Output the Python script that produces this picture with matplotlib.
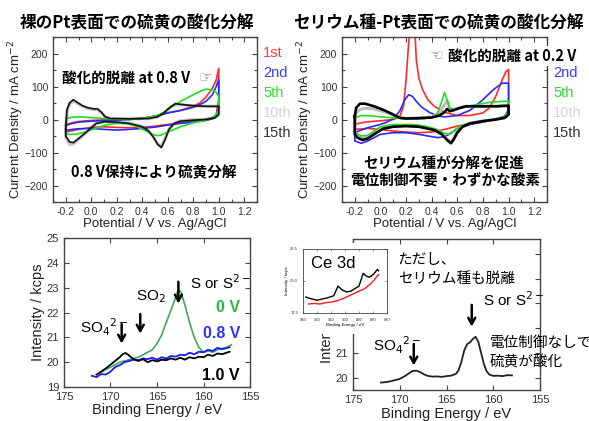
import matplotlib
matplotlib.use('Agg')
import matplotlib.pyplot as plt
from matplotlib.ticker import MultipleLocator, FormatStrFormatter, FuncFormatter
from matplotlib.patches import Rectangle

plt.rcParams['font.family'] = ['Liberation Sans', 'Noto Sans CJK JP', 'DejaVu Sans']
plt.rcParams['axes.unicode_minus'] = True
JP = ['Noto Sans CJK JP', 'DejaVu Sans']

# ---- CV data, bare Pt (left) : potential / V, current / mA cm-2 ----
pt_red_v = [-0.2, -0.15, -0.1, 0.0, 0.1, 0.2, 0.3, 0.4, 0.5, 0.6, 0.7, 0.8, 0.85, 0.9, 0.95, 0.98, 1.0,
            1.0, 0.98, 0.95, 0.9, 0.8, 0.7, 0.6, 0.5, 0.4, 0.3, 0.2, 0.1, 0.0, -0.1, -0.2, -0.2]
pt_red_i = [-15, -10, -6, -3, -1, 0, 2, 4, 10, 20, 28, 40, 50, 68, 95, 120, 155,
            60, 15, 5, 0, -6, -10, -15, -20, -24, -25, -24, -22, -24, -30, -38, -15]
pt_blue_v = [-0.2, -0.15, -0.1, 0.0, 0.1, 0.2, 0.3, 0.4, 0.5, 0.6, 0.7, 0.8, 0.85, 0.9, 0.95, 0.98, 1.0,
             1.0, 0.98, 0.95, 0.9, 0.8, 0.7, 0.6, 0.5, 0.4, 0.3, 0.2, 0.1, 0.0, -0.1, -0.15, -0.2, -0.2]
pt_blue_i = [-18, -12, -8, -5, -3, -2, 0, 3, 10, 20, 27, 37, 45, 55, 75, 100, 122,
             40, 12, 2, -3, -8, -12, -17, -23, -27, -30, -32, -30, -27, -28, -30, -33, -18]
pt_green_v = [-0.2, -0.15, -0.1, 0.0, 0.1, 0.2, 0.3, 0.4, 0.5, 0.55, 0.6, 0.7, 0.8, 0.85, 0.9, 0.95, 0.98, 1.0,
              1.0, 0.98, 0.95, 0.9, 0.8, 0.7, 0.6, 0.55, 0.52, 0.48, 0.42, 0.35, 0.28, 0.2, 0.12, 0.05,
              -0.05, -0.12, -0.2, -0.2]
pt_green_i = [3, 7, 8, 6, 3, 1, 0, 3, 10, 18, 30, 55, 75, 85, 92, 90, 82, 70,
              30, 15, 5, -2, -10, -22, -38, -47, -49, -45, -33, -20, -13, -12, -16, -25,
              -38, -45, -45, 3]
pt_gray_v = [-0.2, -0.19, -0.17, -0.14, -0.11, -0.07, -0.03, 0.02, 0.05, 0.08, 0.11, 0.15, 0.3, 0.45, 0.52,
             0.57, 0.62, 0.66, 0.72, 0.8, 0.9, 1.0,
             1.0, 0.97, 0.9, 0.8, 0.7, 0.65, 0.61, 0.58, 0.55, 0.52, 0.49, 0.45, 0.4, 0.3, 0.2, 0.1,
             0.04, 0.0, -0.05, -0.1, -0.14, -0.17, -0.2, -0.2]
pt_gray_i = [-35, 28, 47, 56, 50, 40, 34, 30, 30, 20, 7, 3, 2, 3, 8,
             19, 36, 46, 44, 41, 40, 40,
             16, 6, 1, -1, -4, -11, -28, -58, -82, -73, -53, -34, -21, -11, -7, -6,
             -11, -24, -43, -60, -74, -75, -55, -35]
pt_black_v = [-0.2, -0.19, -0.17, -0.14, -0.11, -0.07, -0.03, 0.02, 0.05, 0.08, 0.11, 0.15, 0.3, 0.45, 0.52,
              0.57, 0.62, 0.66, 0.72, 0.8, 0.9, 1.0,
              1.0, 0.97, 0.9, 0.8, 0.7, 0.65, 0.61, 0.58, 0.55, 0.52, 0.49, 0.45, 0.4, 0.3, 0.2, 0.1,
              0.04, 0.0, -0.05, -0.1, -0.14, -0.17, -0.2, -0.2]
pt_black_i = [-30, 30, 50, 60, 52, 42, 36, 32, 32, 22, 8, 3, 2, 3, 8,
              20, 38, 48, 45, 42, 40, 40,
              15, 5, 0, -2, -5, -12, -30, -60, -85, -75, -55, -35, -22, -12, -8, -7,
              -12, -25, -42, -58, -70, -68, -50, -30]

# ---- CV data, Ce-modified Pt (right) ----
ce_red_v = [-0.2, -0.15, -0.1, 0.0, 0.1, 0.15, 0.18, 0.2, 0.22, 0.24, 0.25, 0.27, 0.28, 0.3, 0.33, 0.37,
            0.42, 0.5, 0.6, 0.7, 0.8, 0.85, 0.9, 0.95, 0.98, 1.0,
            1.0, 0.97, 0.9, 0.8, 0.7, 0.6, 0.5, 0.4, 0.3, 0.2, 0.1, 0.0, -0.1, -0.2, -0.2]
ce_red_i = [-15, -10, -7, -4, 0, 8, 40, 120, 230, 330, 360, 260, 180, 125, 90, 60,
            40, 22, 12, 12, 20, 35, 70, 120, 145, 152,
            25, 10, 2, -5, -12, -20, -30, -38, -40, -38, -35, -30, -27, -30, -15]
ce_blue_v = [-0.2, -0.15, -0.1, 0.0, 0.05, 0.1, 0.15, 0.19, 0.22, 0.25, 0.28, 0.32, 0.38, 0.45, 0.5, 0.6,
             0.7, 0.8, 0.88, 0.95, 1.0,
             1.0, 0.97, 0.9, 0.8, 0.7, 0.6, 0.55, 0.5, 0.45, 0.4, 0.3, 0.2, 0.1, 0.0, -0.05, -0.1,
             -0.15, -0.2, -0.2]
ce_blue_i = [-40, -32, -25, -15, -8, 2, 25, 60, 75, 70, 55, 38, 22, 10, 8, 12,
             28, 60, 90, 110, 110,
             30, 10, 0, -8, -15, -28, -42, -52, -55, -52, -45, -40, -40, -45, -55, -65,
             -72, -65, -40]
ce_green_v = [-0.2, -0.15, -0.1, 0.0, 0.1, 0.2, 0.3, 0.4, 0.44, 0.47, 0.5, 0.52, 0.54, 0.57, 0.65, 0.75,
              0.85, 0.95, 1.0,
              1.0, 0.97, 0.9, 0.8, 0.7, 0.62, 0.57, 0.53, 0.49, 0.44, 0.35, 0.25, 0.1, 0.0, -0.05,
              -0.1, -0.15, -0.2, -0.2]
ce_green_i = [5, 12, 12, 8, 5, 3, 2, 5, 15, 45, 82, 60, 35, 30, 38, 45,
              52, 55, 55,
              25, 8, 0, -5, -10, -20, -35, -45, -40, -30, -20, -15, -15, -22, -35,
              -48, -50, -40, 5]
ce_gray_v = [-0.2, -0.19, -0.16, -0.12, -0.05, 0.03, 0.1, 0.15, 0.2, 0.3, 0.4, 0.46, 0.5, 0.52, 0.54,
             0.57, 0.62, 0.67, 0.8, 0.9, 1.0,
             1.0, 0.97, 0.9, 0.8, 0.7, 0.64, 0.6, 0.57, 0.55, 0.52, 0.48, 0.42, 0.3, 0.2, 0.1,
             0.02, -0.05, -0.1, -0.14, -0.18, -0.2, -0.2]
ce_gray_i = [5, 22, 30, 34, 32, 24, 13, 5, 3, 4, 7, 20, 45, 58, 35,
             30, 36, 40, 40, 40, 42,
             16, 6, 0, -4, -11, -20, -36, -58, -68, -60, -44, -30, -20, -18, -20,
             -26, -42, -52, -58, -52, -42, 5]
ce_black_v = [-0.2, -0.19, -0.16, -0.12, -0.05, 0.03, 0.1, 0.15, 0.2, 0.3, 0.4, 0.46, 0.5, 0.52, 0.54,
              0.57, 0.62, 0.67, 0.8, 0.9, 1.0,
              1.0, 0.97, 0.9, 0.8, 0.7, 0.64, 0.6, 0.57, 0.55, 0.52, 0.48, 0.42, 0.3, 0.2, 0.1,
              0.02, -0.05, -0.1, -0.14, -0.18, -0.2, -0.2]
ce_black_i = [10, 35, 48, 48, 40, 28, 15, 5, 3, 4, 6, 12, 22, 32, 25,
              28, 35, 40, 40, 40, 42,
              15, 5, 0, -5, -12, -22, -40, -62, -72, -62, -45, -32, -22, -20, -22,
              -28, -45, -58, -62, -55, -45, 10]

# ---- XPS S 2p, bare Pt (binding energy / eV, intensity / kcps) ----
xps_green_be = [171.0, 170.5, 170.0, 169.5, 169.0, 168.5, 168.0, 167.5, 167.0, 166.5, 166.0, 165.5,
                165.0, 164.5, 164.0, 163.5, 163.0, 162.7, 162.4, 162.0, 161.5, 161.0, 160.5, 160.0,
                159.5, 159.0, 158.5, 158.0, 157.5, 157.0]
xps_green_i = [19.6, 19.7, 19.8, 19.9, 20.0, 20.05, 20.1, 20.15, 20.2, 20.3, 20.4, 20.5,
               20.75, 21.1, 21.6, 22.1, 22.6, 22.95, 22.8, 22.3, 21.6, 21.0, 20.6, 20.4,
               20.45, 20.4, 20.5, 20.55, 20.6, 20.7]
xps_black_be = [171.5, 171.0, 170.5, 170.0, 169.5, 169.0, 168.7, 168.4, 168.1, 167.8, 167.4, 167.0,
                166.5, 166.0, 165.5, 165.0, 164.5, 164.0, 163.5, 163.0, 162.5, 162.0, 161.5, 161.0,
                160.5, 160.0, 159.5, 159.0, 158.5, 158.0, 157.2]
xps_black_i = [19.5, 19.62, 19.75, 19.9, 20.05, 20.2, 20.32, 20.37, 20.3, 20.2, 20.1, 20.05,
               20.12, 20.0, 20.08, 20.03, 20.1, 20.08, 20.15, 20.1, 20.18, 20.1, 20.2, 20.15,
               20.22, 20.2, 20.3, 20.25, 20.35, 20.32, 20.42]
xps_blue_be = [172.0, 171.5, 171.0, 170.5, 170.0, 169.5, 169.0, 168.5, 168.0, 167.5, 167.0, 166.5,
               166.0, 165.5, 165.0, 164.5, 164.0, 163.5, 163.0, 162.5, 162.0, 161.5, 161.0, 160.5,
               160.0, 159.5, 159.0, 158.5, 158.0, 157.2]
xps_blue_i = [19.45, 19.4, 19.52, 19.5, 19.62, 19.8, 19.88, 20.0, 20.05, 20.1, 20.08, 20.15,
              20.12, 20.18, 20.1, 20.2, 20.15, 20.25, 20.22, 20.3, 20.28, 20.38, 20.32, 20.42,
              20.4, 20.5, 20.45, 20.58, 20.52, 20.6]

# ---- XPS S 2p, Ce-modified Pt ----
xps_ce_be = [172.0, 171.5, 171.0, 170.5, 170.0, 169.5, 169.0, 168.6, 168.2, 167.8, 167.4, 167.0,
             166.5, 166.0, 165.5, 165.0, 164.5, 164.0, 163.7, 163.4, 163.1, 162.8, 162.5, 162.2,
             161.9, 161.6, 161.3, 161.0, 160.7, 160.4, 160.0, 159.5, 159.0, 158.5, 158.0]
xps_ce_i = [19.8, 19.82, 19.85, 19.9, 19.95, 20.05, 20.18, 20.27, 20.28, 20.22, 20.13, 20.07,
            20.04, 20.05, 20.03, 20.06, 20.08, 20.15, 20.3, 20.65, 21.1, 21.35, 21.42, 21.55,
            21.65, 21.45, 21.0, 20.55, 20.25, 20.12, 20.07, 20.08, 20.06, 20.1, 20.09]

# ---- inset Ce 3d ----
ce3d_black_be = [928, 924, 920, 916, 912, 908, 905, 902, 899, 896, 893, 890, 887, 885, 883, 881, 879, 877, 876]
ce3d_black_i = [18.75, 18.6, 18.5, 18.6, 18.7, 18.85, 19.6, 19.3, 19.15, 19.2, 19.4, 19.6, 20.6, 20.4,
                20.3, 20.4, 20.6, 20.9, 20.8]
ce3d_red_be = [926, 922, 918, 914, 910, 906, 902, 898, 894, 890, 886, 882, 879, 877, 876]
ce3d_red_i = [18.2, 18.25, 18.2, 18.3, 18.35, 18.45, 18.6, 18.8, 19.0, 19.2, 19.4, 19.75, 20.1, 20.4, 20.5]

cycle_labels = ['1st', '2nd', '5th', '10th', '15th']
cycle_colors = ['#ff3b3b', '#3b3bff', '#33dd33', '#d4d4d4', '#333333']

W, H = 589, 421
fig = plt.figure(figsize=(W / 100, H / 100), dpi=100)


def box(x0, y0, x1, y1):
    # pixel box (top-left origin) -> figure fraction rect
    return [x0 / W, 1 - y1 / H, (x1 - x0) / W, (y1 - y0) / H]


def fx(x):
    return x / W


def fy(y):
    return 1 - y / H


def style(ax, size=7.5):
    ax.tick_params(which='both', direction='in', top=True, right=True,
                   labelsize=size, labelcolor='#333333', color='#444444', width=0.8)
    ax.tick_params(which='major', length=3.5)
    ax.tick_params(which='minor', length=2)
    for s in ax.spines.values():
        s.set_linewidth(1.0)
        s.set_color('#444444')


def cv_axes(ax):
    style(ax)
    ax.set_xlim(-0.3, 1.3)
    ax.set_ylim(-250, 250)
    ax.xaxis.set_major_locator(MultipleLocator(0.2))
    ax.xaxis.set_minor_locator(MultipleLocator(0.1))
    ax.xaxis.set_major_formatter(FormatStrFormatter('%.1f'))
    ax.yaxis.set_major_locator(MultipleLocator(100))
    ax.yaxis.set_minor_locator(MultipleLocator(50))
    ax.set_xlabel('Potential / V vs. Ag/AgCl', fontsize=9.5, color='#222222')
    ax.set_ylabel('Current Density / mA cm$^{-2}$', fontsize=9.5, color='#222222')
    ax.yaxis.set_label_coords(-0.13, 0.5)
    ax.xaxis.set_label_coords(0.5, -0.095)


ax1 = fig.add_axes(box(53, 37, 257, 202))
ax2 = fig.add_axes(box(342, 37, 547, 202))
cv_axes(ax1)
cv_axes(ax2)

ax1.plot(pt_gray_v, pt_gray_i, color='#c8c8c8', lw=2.4)
ax1.plot(pt_red_v, pt_red_i, color='#ff2a2a', lw=1.2)
ax1.plot(pt_blue_v, pt_blue_i, color='#2a2aff', lw=1.2)
ax1.plot(pt_green_v, pt_green_i, color='#22dd22', lw=1.2)
ax1.plot(pt_black_v, pt_black_i, color='#111111', lw=1.2)

ax2.plot(ce_red_v, ce_red_i, color='#ff2a2a', lw=1.2)
ax2.plot(ce_blue_v, ce_blue_i, color='#2a2aff', lw=1.2)
ax2.plot(ce_gray_v, ce_gray_i, color='#bdbdbd', lw=2.2)
ax2.plot(ce_green_v, ce_green_i, color='#22dd22', lw=1.2)
ax2.plot(ce_black_v, ce_black_i, color='#000000', lw=1.9)

# titles
fig.text(fx(137), fy(23), '裸のPt表面での硫黄の酸化分解', ha='center', va='center',
         fontsize=12, fontweight='bold', family=JP)
fig.text(fx(438), fy(23), 'セリウム種-Pt表面での硫黄の酸化分解', ha='center', va='center',
         fontsize=12, fontweight='bold', family=JP)

# cycle labels (the right panel's "1st" sits under the white note box)
for k, (lab, col) in enumerate(zip(cycle_labels, cycle_colors)):
    fig.text(fx(263), fy(53 + 20 * k), lab, color=col, fontsize=10.5, va='center')
    if k > 0:
        fig.text(fx(553), fy(53 + 20 * k), lab, color=col, fontsize=10.5, va='center')

# left CV annotations
fig.text(fx(62), fy(78), '酸化的脱離 at 0.8 V', fontsize=10.5, fontweight='bold', va='center',
         family=JP)
fig.text(fx(199), fy(78), '☞', fontsize=11, color='#8a8a8a', va='center', family='DejaVu Sans')
fig.text(fx(154), fy(172), '0.8 V保持により硫黄分解', fontsize=10.5, fontweight='bold',
         ha='center', va='center', family=JP)

# right CV annotations
fig.add_artist(Rectangle((fx(427), fy(66)), (589 - 427) / W, 20 / H, transform=fig.transFigure,
                         facecolor='white', edgecolor='none', zorder=4))
fig.text(fx(430), fy(56), '☜', fontsize=11, color='#8a8a8a', va='center', zorder=5,
         family='DejaVu Sans')
fig.text(fx(448), fy(56), '酸化的脱離 at 0.2 V', fontsize=10.5, fontweight='bold', va='center',
         zorder=5, family=JP)
fig.text(fx(444), fy(163), 'セリウム種が分解を促進', fontsize=10.5, fontweight='bold',
         ha='center', va='center', family=JP)
fig.text(fx(445), fy(181), '電位制御不要・わずかな酸素', fontsize=10.5, fontweight='bold',
         ha='center', va='center', family=JP)


def xps_axes(ax, ylim):
    style(ax, size=8)
    ax.set_xlim(175, 155)
    ax.set_ylim(*ylim)
    ax.xaxis.set_major_locator(MultipleLocator(5))
    ax.yaxis.set_major_locator(MultipleLocator(1))
    ax.set_xlabel('Binding Energy / eV', fontsize=10.5, color='#222222')
    ax.set_ylabel('Intensity / kcps', fontsize=10.5, color='#222222')
    ax.xaxis.set_label_coords(0.5, -0.11)


ax3 = fig.add_axes(box(64, 238, 250, 387))
xps_axes(ax3, (19, 25))
ax3.yaxis.set_label_coords(-0.1, 0.5)
ax3.plot(xps_green_be, xps_green_i, color='#3caa5c', lw=1.2)
ax3.plot(xps_blue_be, xps_blue_i, color='#1a1aff', lw=1.3)
ax3.plot(xps_black_be, xps_black_i, color='#000000', lw=1.3)

arrow = dict(arrowstyle='->, head_length=0.45, head_width=0.25', lw=1.8, color='black')
ax3.annotate('', xy=(162.7, 22.25), xytext=(162.7, 23.35), arrowprops=arrow)
ax3.annotate('', xy=(166.8, 21.04), xytext=(166.8, 22.05), arrowprops=arrow)
ax3.annotate('', xy=(168.8, 20.64), xytext=(168.8, 21.64), arrowprops=arrow)
fig.text(fx(190), fy(283), 'S or S$^{2-}$', fontsize=11, va='center')
fig.text(fx(136), fy(297), 'SO$_2$', fontsize=11, va='center')
fig.text(fx(80), fy(327), 'SO$_4$$^{2-}$', fontsize=11, va='center')
fig.text(fx(240), fy(308), '0 V', fontsize=11.5, fontweight='bold', color='#2db34a', ha='right',
         va='center')
fig.text(fx(240), fy(333), '0.8 V', fontsize=11.5, fontweight='bold', color='#3333ff', ha='right',
         va='center')
fig.text(fx(240), fy(375), '1.0 V', fontsize=11.5, fontweight='bold', color='#000000', ha='right',
         va='center')

ax4 = fig.add_axes(box(353, 239, 540, 390))
xps_axes(ax4, (19.5, 25.6))
ax4.yaxis.set_label_coords(-0.1, 0.5)
# labels above 21 lie under the inset, leave them blank
ax4.yaxis.set_major_formatter(FuncFormatter(lambda v, p: f'{v:.0f}' if v < 21.5 else ''))
ax4.plot(xps_ce_be, xps_ce_i, color='#222222', lw=1.3)
ax4.annotate('', xy=(162.3, 21.95), xytext=(162.3, 23.05), arrowprops=arrow)
ax4.annotate('', xy=(168.5, 20.38), xytext=(168.5, 21.47), arrowprops=arrow)
fig.text(fx(398), fy(260), 'ただし、', fontsize=10.5, va='center', family=JP)
fig.text(fx(398), fy(279), 'セリウム種も脱離', fontsize=10.5, va='center', family=JP)
fig.text(fx(483), fy(300), 'S or S$^{2-}$', fontsize=11, va='center')
fig.text(fx(373), fy(345), 'SO$_4$$^{2-}$', fontsize=11, va='center')
fig.text(fx(490), fy(343), '電位制御なしで', fontsize=10.5, va='center', family=JP)
fig.text(fx(490), fy(362), '硫黄が酸化', fontsize=10.5, va='center', family=JP)

# white backing for the inset, it hides part of the y label
cover = fig.add_axes(box(283, 243, 400, 334), zorder=5)
cover.set_xticks([])
cover.set_yticks([])
for s in cover.spines.values():
    s.set_visible(False)

axin = fig.add_axes(box(303, 249, 387, 313), zorder=6)
style(axin, size=3)
axin.tick_params(which='major', length=1.5, width=0.4)
for s in axin.spines.values():
    s.set_linewidth(0.6)
axin.set_xlim(930, 870)
axin.set_ylim(17.5, 22.5)
axin.xaxis.set_major_locator(MultipleLocator(10))
axin.set_yticks([17.5, 20.0, 22.5])
axin.plot(ce3d_black_be, ce3d_black_i, color='black', lw=1.0)
axin.plot(ce3d_red_be, ce3d_red_i, color='#ff1a1a', lw=1.0)
axin.set_xlabel('Binding Energy / eV', fontsize=3.2, labelpad=1)
axin.set_ylabel('Intensity / kcps', fontsize=3.2, labelpad=1)
axin.text(0.1, 0.78, 'Ce 3d', transform=axin.transAxes, fontsize=12, va='center')

fig.savefig('out.png', dpi=100)
